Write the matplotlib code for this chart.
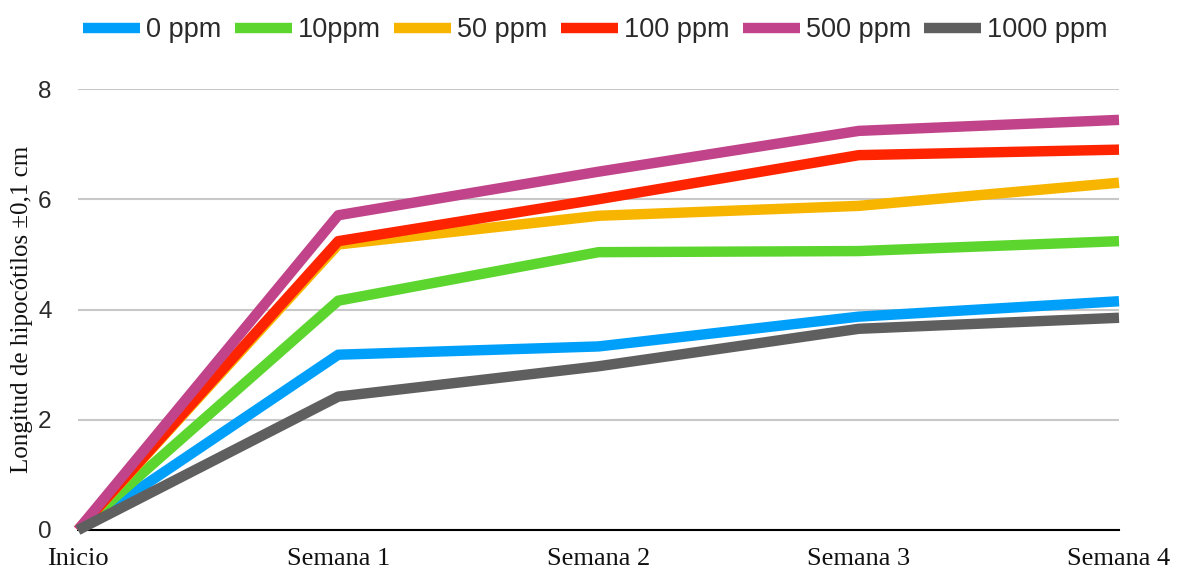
import matplotlib
matplotlib.use("Agg")
import matplotlib.pyplot as plt
from matplotlib import font_manager

# -----------------------------
# Data
# -----------------------------
stages = ['Inicio', 'Semana 1', 'Semana 2', 'Semana 3', 'Semana 4']
series_names = ['0 ppm', '10ppm', '50 ppm', '100 ppm', '500 ppm', '1000 ppm']
ppm_0 = [0, 3.18, 3.33, 3.87, 4.15]
ppm_10 = [0, 4.16, 5.04, 5.06, 5.24]
ppm_50 = [0, 5.18, 5.70, 5.88, 6.30]
ppm_100 = [0, 5.24, 6.00, 6.80, 6.90]
ppm_500 = [0, 5.71, 6.50, 7.24, 7.44]
ppm_1000 = [0, 2.42, 2.97, 3.65, 3.85]
y_ticks = [0, 2, 4, 6, 8]

colors = ['#00A0FA', '#5CD62E', '#F7B500', '#FF2400', '#C1448A', '#5F5F5F']

# narrow sans if available, otherwise plain Liberation Sans a bit smaller
installed = {f.name for f in font_manager.fontManager.ttflist}
if 'Liberation Sans Narrow' in installed:
    sans = 'Liberation Sans Narrow'
    scale = 1.0
else:
    sans = 'Liberation Sans'
    scale = 0.83
serif = 'Liberation Serif'

fig = plt.figure(figsize=(11.77, 5.72), dpi=100)
ax = fig.add_axes([78 / 1177, 1 - 530 / 572, (1119 - 78) / 1177, (530 - 89) / 572])

x = list(range(len(stages)))
all_series = [ppm_0, ppm_10, ppm_50, ppm_100, ppm_500, ppm_1000]
for vals, name, col in zip(all_series, series_names, colors):
    ax.plot(x, vals, color=col, linewidth=7.5, label=name, clip_on=False,
            solid_joinstyle='round', solid_capstyle='butt', zorder=3)

ax.set_xlim(0, 4)
ax.set_ylim(0, 8)
ax.set_xticks(x)
ax.set_xticklabels(stages, family=serif, fontsize=19, color='#111111')
ax.set_yticks(y_ticks)
ax.set_yticklabels([str(v) for v in y_ticks], family=sans, fontsize=21 * scale, color='#2a2a2a')
ax.tick_params(axis='both', length=0)
ax.tick_params(axis='x', pad=13)
ax.tick_params(axis='y', pad=19)

ax.grid(axis='y', color='#C8C8C8', linewidth=1.5)
ax.set_axisbelow(True)
for side in ['left', 'right', 'top']:
    ax.spines[side].set_visible(False)
ax.spines['bottom'].set_color('black')
ax.spines['bottom'].set_linewidth(1.5)
ax.spines['bottom'].set_zorder(2)

ax.set_ylabel('Longitud de hipocótilos ±0,1 cm', family=serif, fontsize=18, color='#111111')
ax.yaxis.set_label_coords(-0.043, 0.5)

fig.legend(loc='center', bbox_to_anchor=(0.506, 0.947), ncol=6, frameon=False,
           prop={'family': sans, 'size': 23.5 * scale},
           handlelength=2.1, handletextpad=0.22, columnspacing=0.5,
           labelcolor='#2a2a2a')

plt.savefig('out.png', dpi=100)
